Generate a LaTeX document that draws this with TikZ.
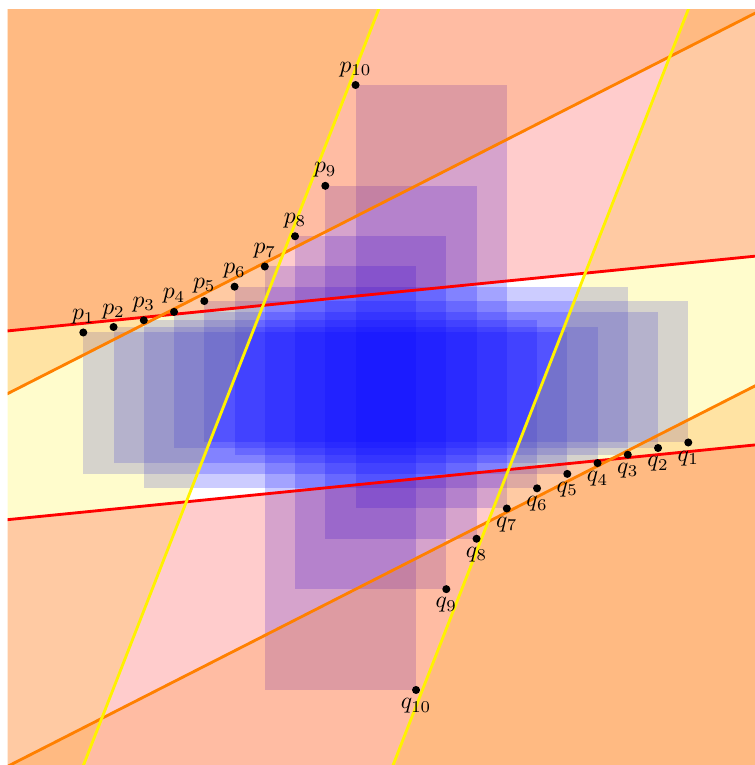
\documentclass[tikz,border=0pt]{standalone}
\begin{document}
\begin{tikzpicture}[x=0.45cm,y=0.45cm,
  plabel/.style={anchor=south},
  qlabel/.style={anchor=north},
  boxfill/.style={fill=blue,opacity=0.2},
  outside/.style={opacity=0.2},
  bound/.style={line width=1.2pt}]
\useasboundingbox (-12.754,-12.48) rectangle (12.205,12.81);
\foreach \i in {1,...,10} {
  \pgfmathsetmacro\xx{-(11-\i)}
  \pgfmathsetmacro\yy{20/(12-\i)}
  \coordinate (p\i) at (\xx,\yy);
  \coordinate (q\i) at (-\xx,-\yy);
}
% line end points
\coordinate (ra1) at (-13,1.82);    \coordinate (rb1) at (13,4.42);
\coordinate (ra2) at (-13,-4.42);   \coordinate (rb2) at (13,-1.82);
\coordinate (oa1) at (-13,-0.457);  \coordinate (ob1) at (13,12.777);
\coordinate (oa2) at (-13,-12.777); \coordinate (ob2) at (13,0.457);
\coordinate (ya1) at (-0.039,13);   \coordinate (yb1) at (-10.195,-13);
\coordinate (ya2) at (10.195,13);   \coordinate (yb2) at (0.039,-13);
\begin{scope}
\clip (-12.5,-12.5) rectangle (12.5,12.5);
\foreach \a/\b in {1/5,2/4,3/6,4/2,5/1,6/3,7/10,8/9,9/8,10/7}
  \fill[boxfill] (p\a) rectangle (q\b);
% outside of the yellow strip
\fill[yellow,outside] (ya1) -- (yb1) -- (-13,-13) -- (-13,13) -- cycle;
\fill[yellow,outside] (ya2) -- (yb2) -- (13,-13) -- (13,13) -- cycle;
% outside of the red strip
\fill[red,outside] (ra1) -- (rb1) -- (13,13) -- (-13,13) -- cycle;
\fill[red,outside] (ra2) -- (rb2) -- (13,-13) -- (-13,-13) -- cycle;
% outside of the orange strip
\fill[orange,outside] (oa1) -- (ob1) -- (13,13) -- (-13,13) -- cycle;
\fill[orange,outside] (oa2) -- (ob2) -- (13,-13) -- (-13,-13) -- cycle;
% boundary lines
\draw[bound,red] (ra1) -- (rb1);
\draw[bound,red] (ra2) -- (rb2);
\draw[bound,orange] (oa1) -- (ob1);
\draw[bound,orange] (oa2) -- (ob2);
\draw[bound,yellow] (ya1) -- (yb1);
\draw[bound,yellow] (ya2) -- (yb2);
\end{scope}
\foreach \i in {1,...,10} {
  \fill (p\i) circle (1.7pt);
  \fill (q\i) circle (1.7pt);
  \node[plabel] (lp\i) at (p\i) {$p_{\i}$};
  \node[qlabel] (lq\i) at (q\i) {$q_{\i}$};
}
\end{tikzpicture}
\end{document}
